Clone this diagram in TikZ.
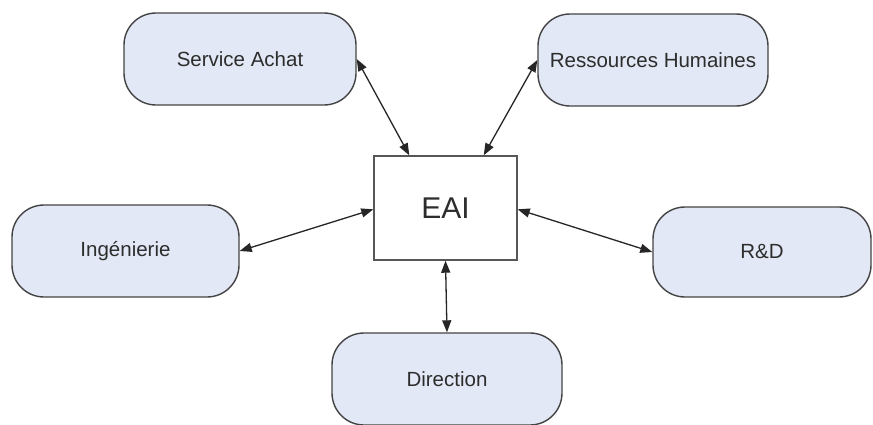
\documentclass[tikz,border=0pt]{standalone}
\usepackage{fontspec}
\setmainfont{Liberation Sans}
\usetikzlibrary{arrows.meta}
\definecolor{boxfill}{RGB}{226,232,245}
\definecolor{boxline}{RGB}{68,68,68}
\definecolor{txt}{RGB}{45,45,45}
\tikzset{
  dept/.style={draw=boxline, line width=1.4pt, fill=boxfill, rounded corners=32pt,
    inner sep=0pt, text=txt, font=\fontsize{20.5}{24}\selectfont},
  eaibox/.style={draw=boxline!90, line width=1.4pt, fill=white, inner sep=0pt,
    minimum width=143pt, minimum height=104pt, text=txt, font=\fontsize{30}{34}\selectfont},
  link/.style={draw=black!85, line width=1.3pt, {Triangle[length=12pt,width=9pt]}-{Triangle[length=12pt,width=9pt]}}
}
\begin{document}
\begin{tikzpicture}[x=1pt,y=-1pt]
\clip (0,0) rectangle (873,424);
\fill[white] (0,0) rectangle (873,424);
\node[dept, minimum width=232pt, minimum height=92pt] (sa) at (240,59) {Service Achat};
\node[dept, minimum width=230pt, minimum height=92pt] (rh) at (653,60) {Ressources Humaines};
\node[dept, minimum width=227pt, minimum height=92pt] (ing) at (125.5,251) {Ingénierie};
\node[dept, minimum width=218pt, minimum height=90pt] (rd) at (762,252) {R\&D};
\node[dept, minimum width=230pt, minimum height=92pt] (dir) at (447,379) {Direction};
\node[eaibox] (eai) at (445.5,208) {EAI};
\draw[link] (sa.east) -- ([xshift=36pt]eai.north west);
\draw[link] (rh.west) -- ([xshift=-34pt]eai.north east);
\draw[link] (ing.east) -- ([yshift=-54pt]eai.north west);
\draw[link] (rd.west) -- ([yshift=-54pt]eai.north east);
\draw[link] (dir.north) -- (eai.south);
\end{tikzpicture}
\end{document}
